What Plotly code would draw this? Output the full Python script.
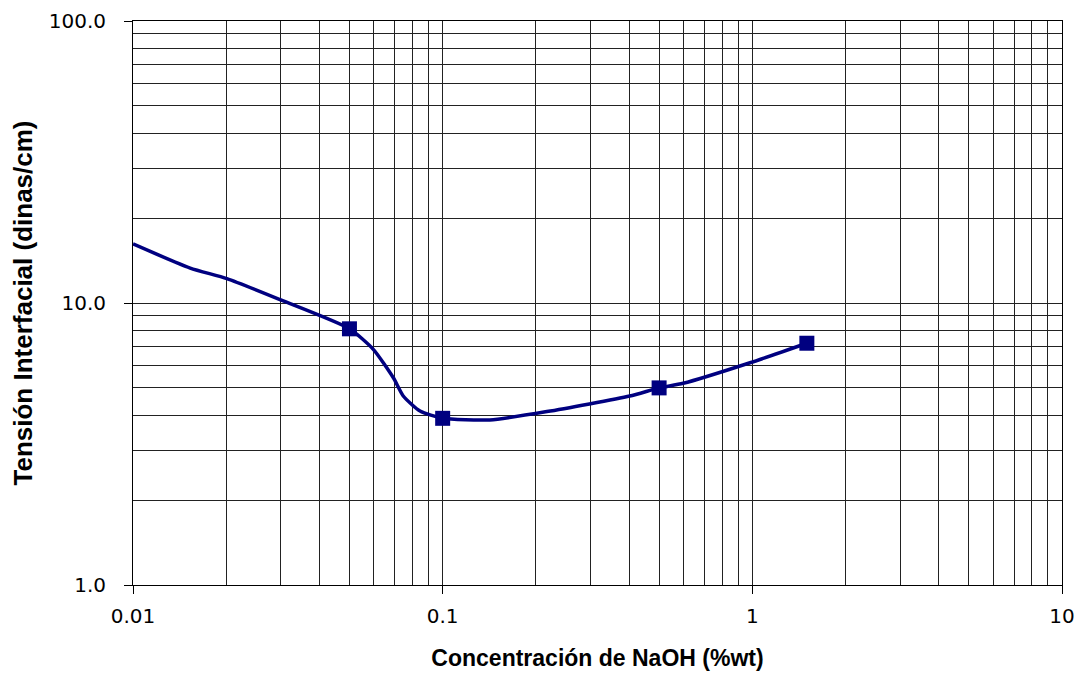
import plotly.graph_objects as go

# measured points (markers)
conc = [0.05, 0.1, 0.5, 1.5]
tension = [8.1, 3.9, 5.0, 7.2]

# smoothed curve
curve_x = [0.01, 0.0153, 0.0201, 0.03, 0.05, 0.0597, 0.0693, 0.0746, 0.0845,
           0.1, 0.142, 0.217, 0.402, 0.5, 0.598, 0.983, 1.5]
curve_y = [16.2, 13.3, 12.2, 10.25, 8.1, 6.85, 5.43, 4.68, 4.14,
           3.9, 3.85, 4.12, 4.68, 5.0, 5.19, 6.14, 7.2]

x_ticks = [0.01, 0.1, 1, 10]
x_ticktext = ["0.01", "0.1", "1", "10"]
y_ticks = [1, 10, 100]
y_ticktext = ["1.0", "10.0", "100.0"]

x_minor = [m * 10 ** e for e in (-2, -1, 0) for m in range(2, 10)]
y_minor = [m * 10 ** e for e in (0, 1) for m in range(2, 10)]

navy = "#000080"

fig = go.Figure()
fig.add_trace(go.Scatter(x=curve_x, y=curve_y, mode="lines",
                         line=dict(color=navy, width=3.5, shape="spline", smoothing=0.6),
                         hoverinfo="skip"))
fig.add_trace(go.Scatter(x=conc, y=tension, mode="markers",
                         marker=dict(symbol="square", size=15, color=navy)))

tick_font = dict(family="DejaVu Sans, sans-serif", size=20, color="black")
title_font = "Liberation Sans, Arial, sans-serif"

fig.update_xaxes(type="log", range=[-2, 1], automargin=False,
                 tickvals=x_ticks, ticktext=x_ticktext,
                 ticks="outside", ticklen=8, tickcolor="black", ticklabelstandoff=5,
                 showgrid=True, gridcolor="#222222", gridwidth=1,
                 minor=dict(tickvals=x_minor, showgrid=True, gridcolor="#222222", gridwidth=1, ticks=""),
                 showline=True, linecolor="black", linewidth=1, mirror=True,
                 zeroline=False, tickfont=tick_font,
                 title=dict(text="<b>Concentración de NaOH (%wt)</b>", standoff=28,
                            font=dict(family=title_font, size=23, color="black")))
fig.update_yaxes(type="log", range=[0, 2], automargin=False,
                 tickvals=y_ticks, ticktext=y_ticktext,
                 ticks="outside", ticklen=8, tickcolor="black", ticklabelstandoff=14,
                 showgrid=True, gridcolor="#222222", gridwidth=1,
                 minor=dict(tickvals=y_minor, showgrid=True, gridcolor="#222222", gridwidth=1, ticks=""),
                 showline=True, linecolor="black", linewidth=1, mirror=True,
                 zeroline=False, tickfont=tick_font,
                 title=dict(text="<b>Tensión Interfacial (dinas/cm)</b>", standoff=12,
                            font=dict(family=title_font, size=26, color="black")))

fig.update_layout(width=1069, height=663,
                  margin=dict(l=125, r=15, t=13, b=86),
                  paper_bgcolor="white", plot_bgcolor="white",
                  showlegend=False)

fig.write_html("out.html")
